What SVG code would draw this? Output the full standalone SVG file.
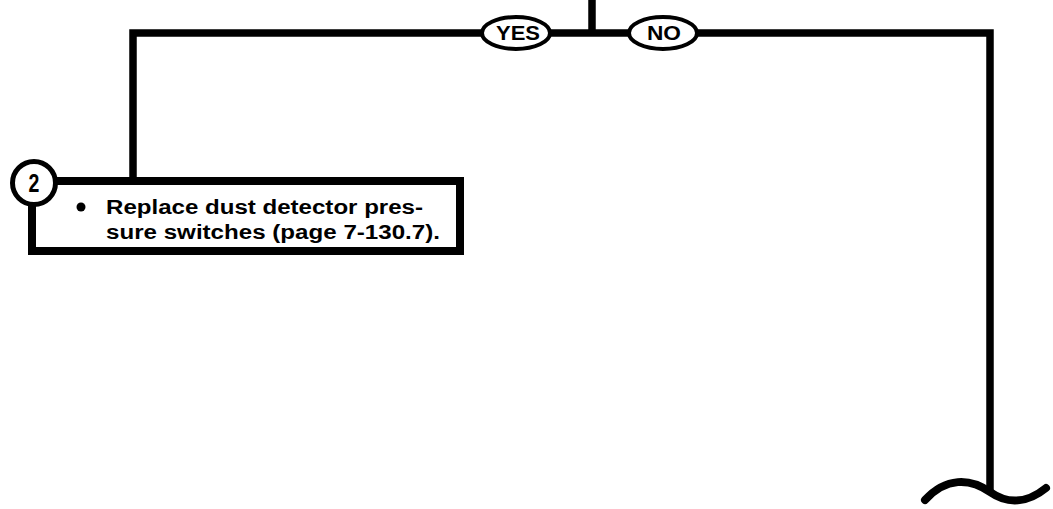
<svg xmlns="http://www.w3.org/2000/svg" width="1053" height="509" viewBox="0 0 1053 509">
<style>
.ln{fill:none;stroke:#000;stroke-width:7.5;stroke-linecap:butt;stroke-linejoin:miter}
.ov{fill:#fff;stroke:#000;stroke-width:4}
.lbl{font-family:"Liberation Sans",Arial,sans-serif;font-weight:bold;font-size:20px;text-anchor:middle}
.txt{font-family:"Liberation Sans",Arial,sans-serif;font-weight:bold;font-size:19.5px}
</style>
<rect width="1053" height="509" fill="#fff"/>
<g id="connectors">
<path class="ln" d="M592 0 V33"/>
<path class="ln" d="M483 33 H133 V181"/>
<path class="ln" d="M550 33 H629"/>
<path class="ln" d="M697 33 H990 V492"/>
<path d="M925 500 C946 477 970 478 990 492 C1010 506 1030 501 1046 488" fill="none" stroke="#000" stroke-width="8" stroke-linecap="round"/>
</g>
<g id="yes">
<ellipse class="ov" cx="516" cy="33" rx="34" ry="16"/>
<text class="lbl" x="518" y="40" textLength="44" lengthAdjust="spacingAndGlyphs">YES</text>
</g>
<g id="no">
<ellipse class="ov" cx="663" cy="33" rx="34" ry="16"/>
<text class="lbl" x="664" y="40" textLength="34" lengthAdjust="spacingAndGlyphs">NO</text>
</g>
<g id="step2">
<path d="M54 181 H460 V251 H32 V205" fill="none" stroke="#000" stroke-width="8"/>
<circle cx="34" cy="183" r="21.5" fill="#fff" stroke="#000" stroke-width="5"/>
<text transform="translate(34,192) scale(0.75,1)" x="0" y="0" text-anchor="middle" font-family="'Liberation Sans',sans-serif" font-weight="bold" font-size="26">2</text>
<circle cx="81" cy="207" r="4.5" fill="#000"/>
<text class="txt" x="106" y="214" textLength="317" lengthAdjust="spacingAndGlyphs">Replace dust detector pres-</text>
<text class="txt" x="106" y="239" textLength="334" lengthAdjust="spacingAndGlyphs">sure switches (page 7-130.7).</text>
</g>
</svg>
